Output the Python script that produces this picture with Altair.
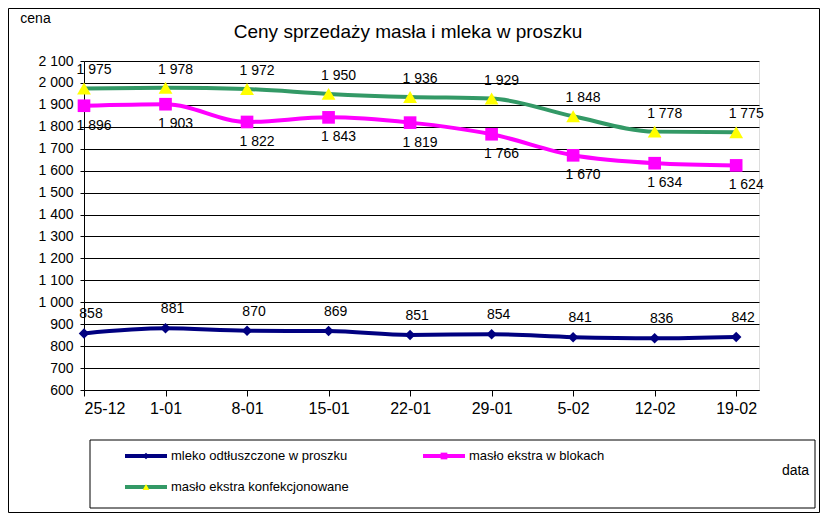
import altair as alt
import pandas as pd

# ---------------- data ----------------
categories = ["25-12", "1-01", "8-01", "15-01", "22-01", "29-01", "5-02", "12-02", "19-02"]
mleko_odtl = [858, 881, 870, 869, 851, 854, 841, 836, 842]
maslo_bloki = [1896, 1903, 1822, 1843, 1819, 1766, 1670, 1634, 1624]
maslo_konf = [1975, 1978, 1972, 1950, 1936, 1929, 1848, 1778, 1775]
series_names = ["mleko odtłuszczone w proszku", "masło ekstra w blokach", "masło ekstra konfekcjonowane"]
y_ticks = list(range(600, 2101, 100))
title_text = "Ceny sprzedaży masła i mleka w proszku"

rows = []
for s, vals in zip(series_names, [mleko_odtl, maslo_bloki, maslo_konf]):
    for i, (c, v) in enumerate(zip(categories, vals)):
        rows.append({"series": s, "idx": i, "cat": c, "value": v})
df = pd.DataFrame(rows)

# ---------------- styles ----------------
FONT = "Liberation Sans"
line_colors = ["#000080", "#FF00FF", "#339966"]
marker_colors = ["#000080", "#FF00FF", "#FFFF00"]
shapes = ["diamond", "square", "triangle-up"]
marker_sizes = [110, 160, 190]
label_offsets = [(7, -19), (10, 20), (10, -18)]

W, H = 675, 329
X_MAX = 8.28

label_expr_x = "[" + ",".join("'%s'" % c for c in categories) + "][datum.value]"
num_fmt = "replace(format(datum.value, ','), ',', ' ')"

x_enc = alt.X(
    "idx:Q",
    scale=alt.Scale(domain=[0, X_MAX], nice=False, zero=False),
    axis=alt.Axis(
        values=list(range(len(categories))), labelExpr=label_expr_x, grid=False,
        domainColor="black", tickColor="black", tickSize=6, labelColor="black",
        labelFontSize=16, labelPadding=4, labelFont=FONT,
        title="data", titleFont=FONT, titleFontSize=14, titleFontWeight="normal",
        titleColor="black", titleX=711, titleY=80, titleAlign="center",
        titleBaseline="middle",
    ),
)
y_enc = alt.Y(
    "value:Q",
    scale=alt.Scale(domain=[600, 2100], nice=False, zero=False),
    axis=alt.Axis(
        values=y_ticks, labelExpr=num_fmt, grid=True, gridColor="black", gridWidth=1,
        domainColor="black", tickColor="black", tickSize=4, labelColor="black",
        labelFontSize=14, labelPadding=7, labelFont=FONT,
        title="cena", titleFont=FONT, titleFontSize=14, titleFontWeight="normal",
        titleColor="black", titleAngle=0, titleX=-49, titleY=-43,
        titleAlign="center", titleBaseline="middle",
    ),
)

base = alt.Chart(df)
lines, points, texts = [], [], []
for k, s in enumerate(series_names):
    sub = base.transform_filter(alt.datum.series == s)
    lines.append(sub.mark_line(interpolate="monotone", strokeWidth=4, color=line_colors[k])
                 .encode(x=x_enc, y=y_enc))
    points.append(sub.mark_point(shape=shapes[k], filled=True, opacity=1, size=marker_sizes[k],
                                 color=marker_colors[k])
                  .encode(x=x_enc, y=y_enc))
    dx, dy = label_offsets[k]
    texts.append(sub.transform_calculate(label=num_fmt)
                 .mark_text(dx=dx, dy=dy, fontSize=14, font=FONT, color="black")
                 .encode(x=x_enc, y=y_enc, text="label:N"))

# ---------------- title, manual legend, frame ----------------
blank = alt.Data(values=[{}])
title_layer = alt.Chart(blank).mark_text(
    text=title_text, align="center", baseline="middle", fontSize=19, font=FONT, color="black"
).encode(x=alt.value(324), y=alt.value(-29))

legend_layers = [
    alt.Chart(blank).mark_rect(fill="transparent", stroke="black", strokeWidth=1)
    .encode(x=alt.value(6), x2=alt.value(731), y=alt.value(379), y2=alt.value(447))
]
legend_pos = [(41, 395), (339, 395), (41, 426)]
for k, s in enumerate(series_names):
    lx, ly = legend_pos[k]
    legend_layers.append(
        alt.Chart(blank).mark_rule(strokeWidth=4, color=line_colors[k])
        .encode(x=alt.value(lx), x2=alt.value(lx + 42), y=alt.value(ly)))
    legend_layers.append(
        alt.Chart(blank).mark_point(shape=shapes[k], filled=True, opacity=1, size=45,
                                    color=marker_colors[k])
        .encode(x=alt.value(lx + 21), y=alt.value(ly)))
    legend_layers.append(
        alt.Chart(blank).mark_text(text=s, align="left", baseline="middle", fontSize=13,
                                   font=FONT, color="black")
        .encode(x=alt.value(lx + 46), y=alt.value(ly)))

frame = alt.Chart(blank).mark_rect(fill="transparent", stroke="black", strokeWidth=1).encode(
    x=alt.value(-75.5), x2=alt.value(735.5), y=alt.value(-52.5), y2=alt.value(451.5))

chart = alt.layer(*lines, *points, *texts, title_layer, *legend_layers, frame).properties(
    width=W, height=H,
    autosize=alt.AutoSizeParams(type="none"),
    padding={"left": 76, "top": 53, "right": 61, "bottom": 123},
).configure_view(fill="#FFFFC8", stroke="#808080", strokeWidth=2).configure(
    background="white"
)

chart.save("out.html", embed_options={"renderer": "svg", "actions": False})
